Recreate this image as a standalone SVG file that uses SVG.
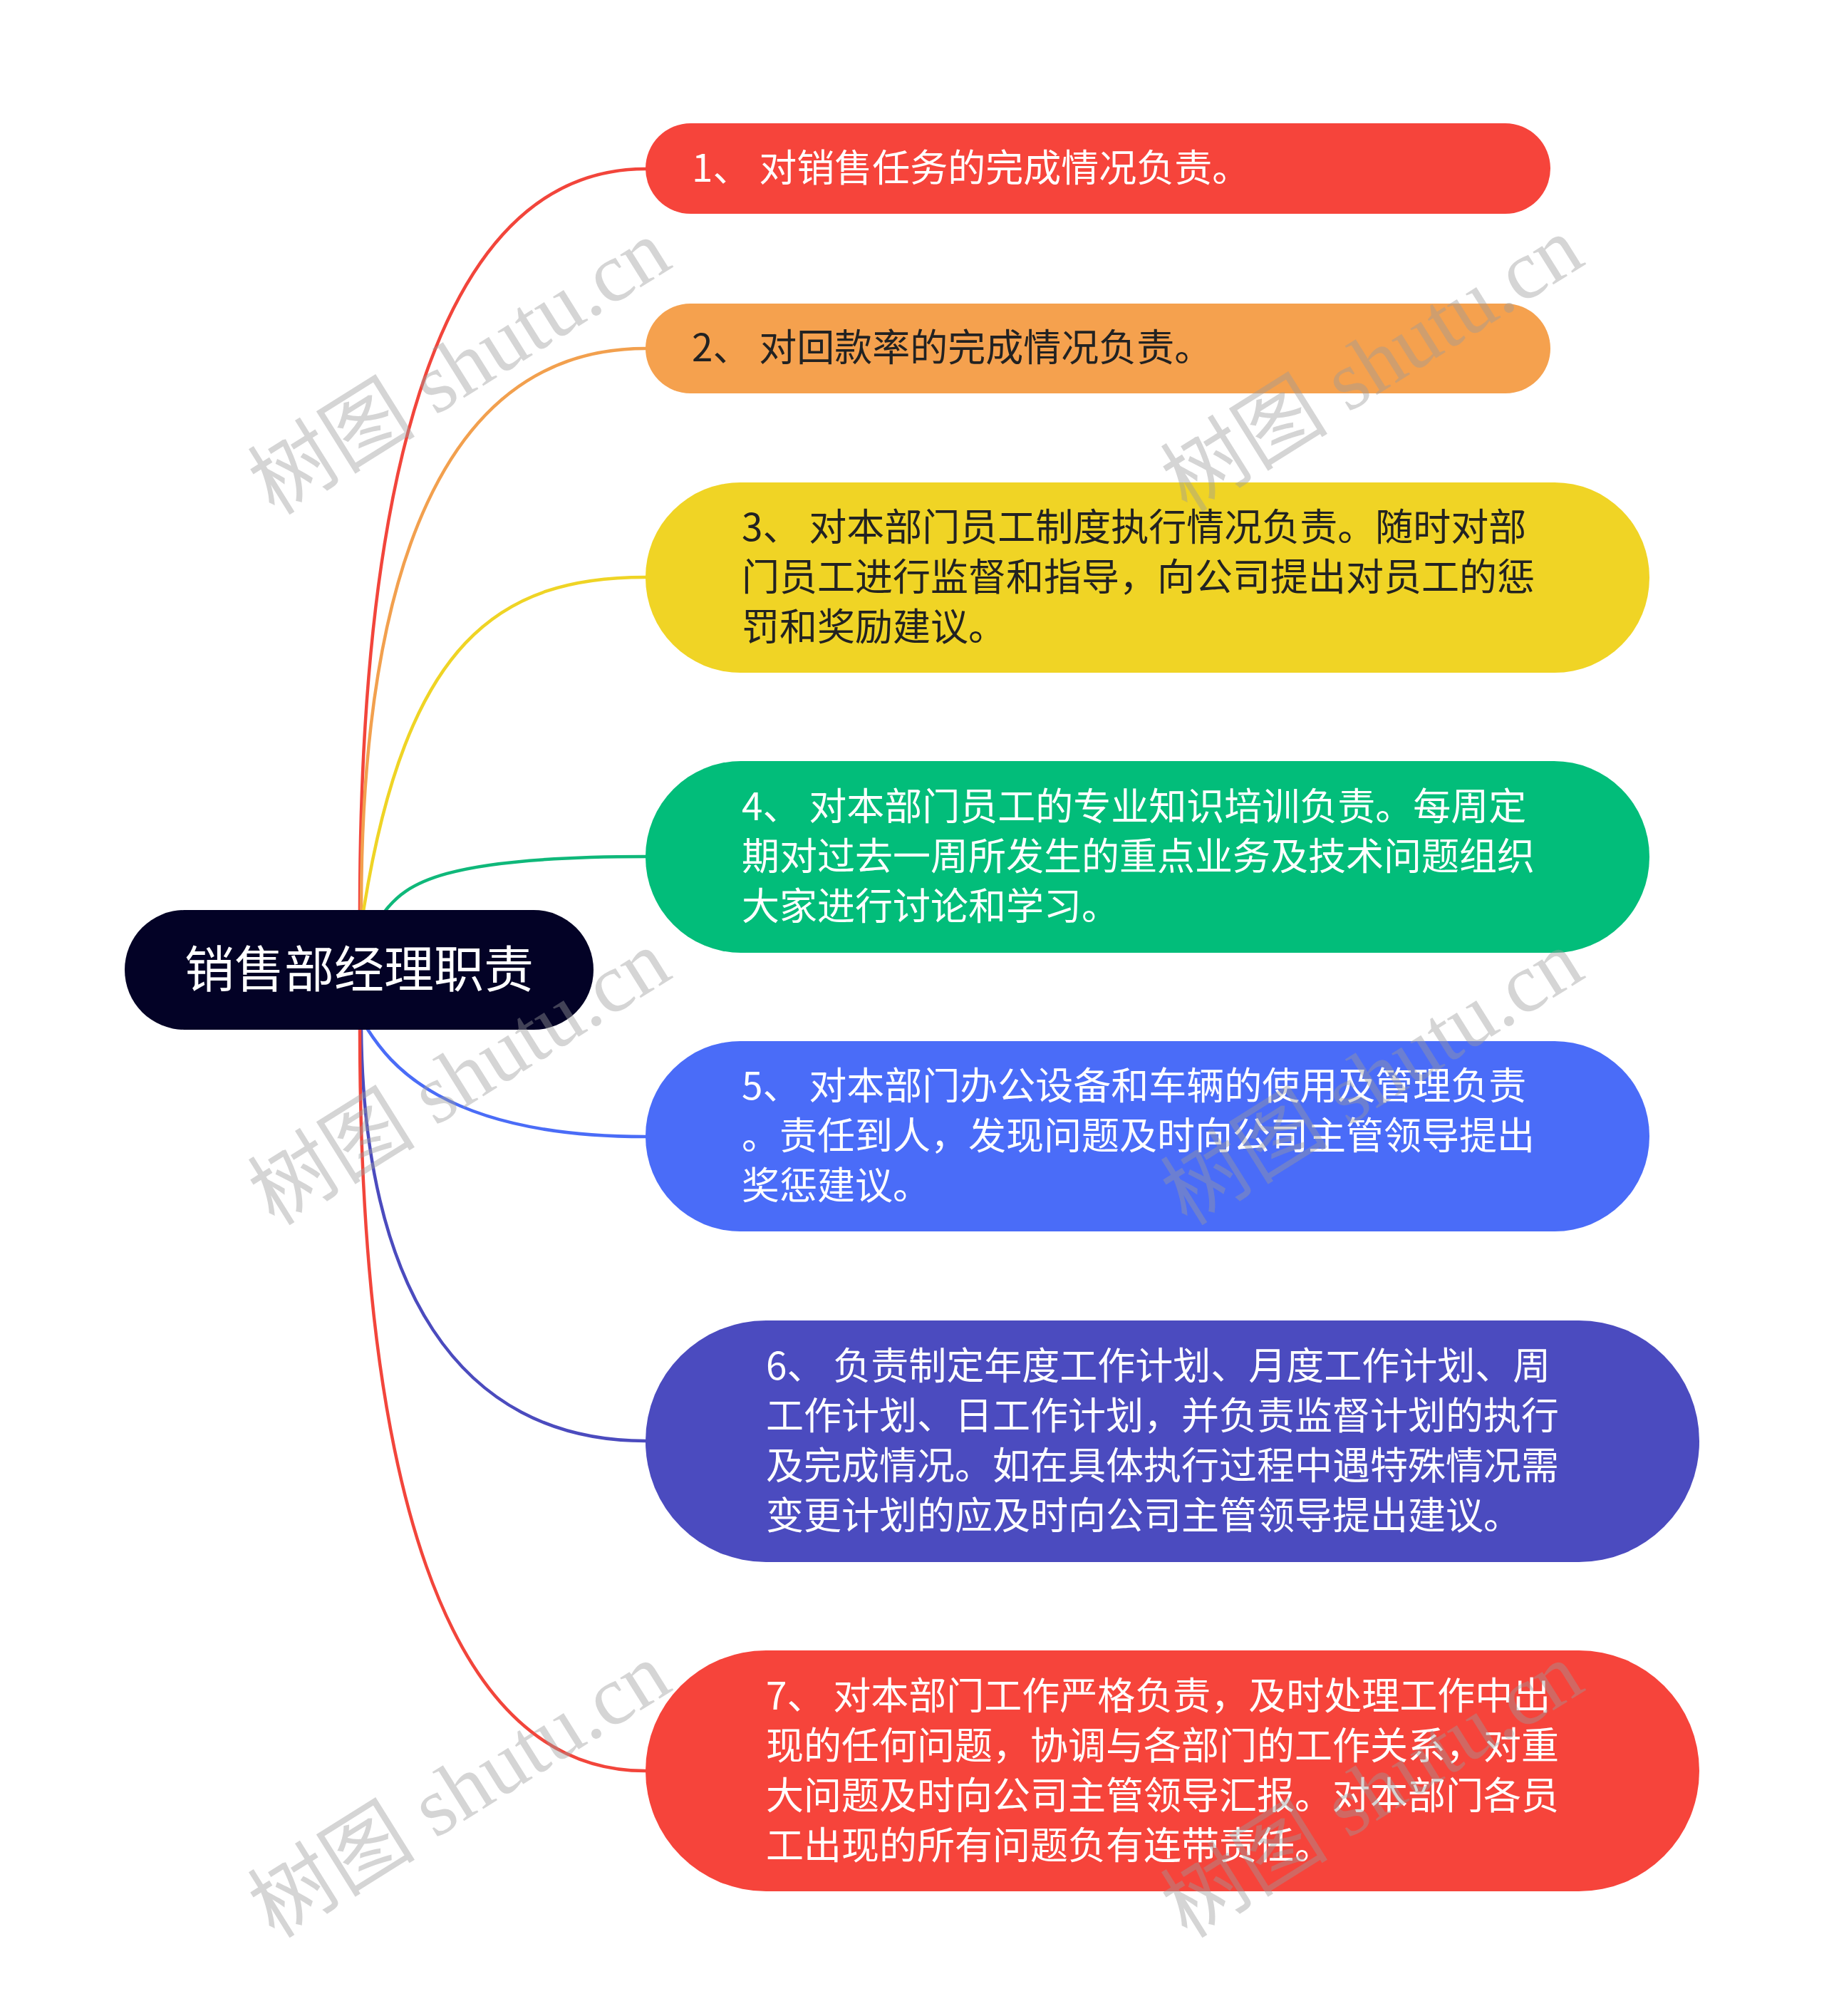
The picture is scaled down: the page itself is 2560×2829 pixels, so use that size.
<svg xmlns="http://www.w3.org/2000/svg" width="2560" height="2829" viewBox="0 0 2560 2829">
<style>
.t{font-family:"Noto Sans CJK SC","Noto Sans",sans-serif;font-size:53px}
.w{fill:#ffffff}
.d{fill:#222222}
.c{fill:none;stroke-width:4.5;stroke-linecap:round}
.wm{font-family:"Liberation Serif","Noto Sans CJK SC",serif;font-size:118px;fill:#9a9a9a;fill-opacity:0.42}
</style>
<rect width="2560" height="2829" fill="#ffffff"/>
<g id="connectors">
<path class="c" stroke="#F2453B" d="M505,1279 C505,653 620,237 906,237"/>
<path class="c" stroke="#F2A04E" d="M507,1279 C507,804 621,489 906,489"/>
<path class="c" stroke="#EFD425" d="M510,1279 C570,900 700,810 906,810"/>
<path class="c" stroke="#0FB87A" d="M540,1279 C570,1240 620,1202 906,1202"/>
<path class="c" stroke="#4A6CF7" d="M515,1443 C545,1490 620,1595 906,1595"/>
<path class="c" stroke="#4B4BBE" d="M507,1443 C510,1800 640,2022 906,2022"/>
<path class="c" stroke="#F2453B" d="M505,1443 C505,2066 620,2485 906,2485"/>
</g>
<g id="root">
<rect x="175" y="1277" width="658" height="168" rx="84" fill="#030226"/>
<text class="t w" x="504" y="1386" style="font-size:70px" text-anchor="middle">销售部经理职责</text>
</g>
<g id="n1">
<rect x="906" y="173" width="1270" height="127" rx="63.5" fill="#F6443B"/>
<text class="t w" x="971" y="255">1、 对销售任务的完成情况负责。</text>
</g>
<g id="n2">
<rect x="906" y="426" width="1270" height="126" rx="63" fill="#F5A14E"/>
<text class="t d" x="971" y="507">2、 对回款率的完成情况负责。</text>
</g>
<g id="n3">
<rect x="906" y="677" width="1409" height="267" rx="133" fill="#F0D425"/>
<text class="t d"><tspan x="1041" y="759">3、 对本部门员工制度执行情况负责。随时对部</tspan><tspan x="1041" y="829">门员工进行监督和指导，向公司提出对员工的惩</tspan><tspan x="1041" y="899">罚和奖励建议。</tspan></text>
</g>
<g id="n4">
<rect x="906" y="1068" width="1409" height="269" rx="134" fill="#02BD7A"/>
<text class="t w"><tspan x="1041" y="1151">4、 对本部门员工的专业知识培训负责。每周定</tspan><tspan x="1041" y="1221">期对过去一周所发生的重点业务及技术问题组织</tspan><tspan x="1041" y="1291">大家进行讨论和学习。</tspan></text>
</g>
<g id="n5">
<rect x="906" y="1461" width="1409" height="267" rx="133" fill="#4A6CF8"/>
<text class="t w"><tspan x="1041" y="1543">5、 对本部门办公设备和车辆的使用及管理负责</tspan><tspan x="1041" y="1613">。责任到人，发现问题及时向公司主管领导提出</tspan><tspan x="1041" y="1683">奖惩建议。</tspan></text>
</g>
<g id="n6">
<rect x="906" y="1853" width="1479" height="339" rx="169" fill="#4B4BBF"/>
<text class="t w"><tspan x="1075" y="1936">6、 负责制定年度工作计划、月度工作计划、周</tspan><tspan x="1075" y="2006">工作计划、日工作计划，并负责监督计划的执行</tspan><tspan x="1075" y="2076">及完成情况。如在具体执行过程中遇特殊情况需</tspan><tspan x="1075" y="2146">变更计划的应及时向公司主管领导提出建议。</tspan></text>
</g>
<g id="n7">
<rect x="906" y="2316" width="1479" height="338" rx="169" fill="#F6443B"/>
<text class="t w"><tspan x="1075" y="2399">7、 对本部门工作严格负责，及时处理工作中出</tspan><tspan x="1075" y="2469">现的任何问题，协调与各部门的工作关系，对重</tspan><tspan x="1075" y="2539">大问题及时向公司主管领导汇报。对本部门各员</tspan><tspan x="1075" y="2609">工出现的所有问题负有连带责任。</tspan></text>
</g>
<g id="watermarks">
<text class="wm" text-anchor="middle" transform="translate(666,549) rotate(-32)">树图 shutu.cn</text>
<text class="wm" text-anchor="middle" transform="translate(1947,545) rotate(-32)">树图 shutu.cn</text>
<text class="wm" text-anchor="middle" transform="translate(666,1546) rotate(-32)">树图 shutu.cn</text>
<text class="wm" text-anchor="middle" transform="translate(1947,1546) rotate(-32)">树图 shutu.cn</text>
<text class="wm" text-anchor="middle" transform="translate(666,2546) rotate(-32)">树图 shutu.cn</text>
<text class="wm" text-anchor="middle" transform="translate(1947,2546) rotate(-32)">树图 shutu.cn</text>
</g>
</svg>
